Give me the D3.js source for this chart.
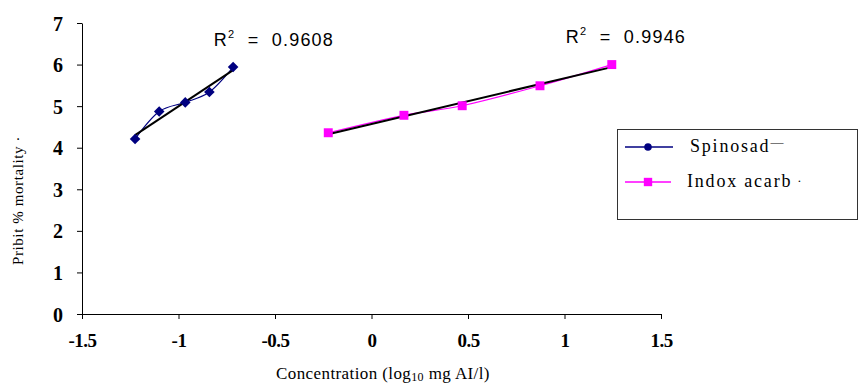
<!DOCTYPE html>
<html>
<head>
<meta charset="utf-8">
<script src="https://cdn.jsdelivr.net/npm/d3@7"></script>
<style>
  html, body { margin: 0; padding: 0; background: #fff; }
  svg { display: block; }
</style>
</head>
<body>
<div id="chart"></div>
<script>
// data
const spinosadX = [-1.225, -1.10, -0.965, -0.84, -0.717];
const spinosadY = [4.21, 4.87, 5.09, 5.34, 5.94];
const indoxacarbX = [-0.224, 0.168, 0.47, 0.873, 1.245];
const indoxacarbY = [4.36, 4.78, 5.01, 5.49, 6.0];
const r2Labels = ["0.9608", "0.9946"];
const xTicks = [-1.5, -1, -0.5, 0, 0.5, 1, 1.5];
const yTicks = [0, 1, 2, 3, 4, 5, 6, 7];

const W = 860, H = 383;
const margin = { top: 23, right: 199, bottom: 69, left: 82 };

const svg = d3.select("#chart")
    .append("svg")
    .attr("width", W)
    .attr("height", H);

const x = d3.scaleLinear().domain([-1.5, 1.5]).range([margin.left, W - margin.right]);
const y = d3.scaleLinear().domain([0, 7]).range([H - margin.bottom, margin.top]);

// axes
const xAxis = svg.append("g")
    .attr("transform", `translate(0,${y(0)})`)
    .call(d3.axisBottom(x).tickValues(xTicks).tickSize(5).tickSizeOuter(0).tickFormat(d => d));
const yAxis = svg.append("g")
    .attr("transform", `translate(${x(-1.5)},0)`)
    .call(d3.axisLeft(y).tickValues(yTicks).tickSize(5).tickSizeOuter(0).tickFormat(d3.format("d")));

[xAxis, yAxis].forEach(g => {
    g.select(".domain").attr("stroke", "#000").attr("stroke-width", 1);
    g.selectAll(".tick line").attr("stroke", "#000");
    g.selectAll(".tick text")
        .attr("fill", "#000")
        .style("font-family", "'Liberation Serif', 'Times New Roman', serif")
        .style("font-weight", "bold");
});
xAxis.selectAll(".tick text")
    .attr("y", 20).attr("dy", "0.71em")
    .style("font-size", "19px")
    .style("letter-spacing", "-0.5px");
yAxis.selectAll(".tick text")
    .attr("x", -19).attr("dy", "0.35em")
    .style("font-size", "20px");

// axis titles
svg.append("text")
    .attr("transform", `translate(23,${(y(0) + y(7)) / 2 + 32}) rotate(-90)`)
    .attr("text-anchor", "middle")
    .style("font-family", "'Liberation Serif', serif")
    .style("font-size", "15px")
    .style("letter-spacing", "0.6px")
    .text("Pribit % mortality ·");

const xt = svg.append("text")
    .attr("x", 383)
    .attr("y", 379)
    .attr("text-anchor", "middle")
    .style("font-family", "'Liberation Serif', serif")
    .style("font-size", "17px")
    .style("letter-spacing", "0.4px");
xt.append("tspan").text("Concentration (log");
xt.append("tspan").attr("dy", 2).style("font-size", "12px").text("10");
xt.append("tspan").attr("dy", -2).text(" mg AI/l)");

// series
const series = [
    { name: "Spinosad", xs: spinosadX, ys: spinosadY, color: "#000080", rotate: 45, size: 56, r2: r2Labels[0] },
    { name: "Indoxacarb", xs: indoxacarbX, ys: indoxacarbY, color: "#FF00FF", rotate: 0, size: 80, r2: r2Labels[1] }
];

function linreg(xs, ys) {
    const mx = d3.mean(xs), my = d3.mean(ys);
    const b = d3.sum(xs, (v, i) => (v - mx) * (ys[i] - my)) / d3.sum(xs, v => (v - mx) * (v - mx));
    return { a: my - b * mx, b };
}

const line = d3.line().x(d => x(d[0])).y(d => y(d[1])).curve(d3.curveCatmullRom.alpha(0));

series.forEach(s => {
    const pts = s.xs.map((v, i) => [v, s.ys[i]]);
    svg.append("path")
        .datum(pts)
        .attr("fill", "none")
        .attr("stroke", s.color)
        .attr("stroke-width", 1.2)
        .attr("d", line);

    const fit = linreg(s.xs, s.ys);
    const x0 = d3.min(s.xs), x1 = d3.max(s.xs);
    svg.append("line")
        .attr("x1", x(x0)).attr("y1", y(fit.a + fit.b * x0))
        .attr("x2", x(x1)).attr("y2", y(fit.a + fit.b * x1))
        .attr("stroke", "#000")
        .attr("stroke-width", 2);

    svg.append("g").selectAll("path")
        .data(pts)
        .join("path")
        .attr("transform", d => `translate(${x(d[0])},${y(d[1])}) rotate(${s.rotate})`)
        .attr("d", d3.symbol().type(d3.symbolSquare).size(s.size)())
        .attr("fill", s.color);
});

// R² labels
const r2Pos = [[-0.194, 6.45], [1.63, 6.51]];
series.forEach((s, i) => {
    const t = svg.append("text")
        .attr("x", x(r2Pos[i][0]))
        .attr("y", y(r2Pos[i][1]))
        .attr("text-anchor", "end")
        .style("font-family", "'Liberation Sans', Arial, sans-serif")
        .style("font-size", "18px")
        .style("letter-spacing", "1.2px");
    t.append("tspan").text("R");
    t.append("tspan").attr("dy", -8).style("font-size", "11px").text("2");
    t.append("tspan").attr("dy", 8).text("\u00a0\u00a0=\u00a0\u00a0" + s.r2);
});

// legend
const legend = svg.append("g").attr("transform", "translate(617,129)");
legend.append("rect")
    .attr("x", 0.5).attr("y", 0.5)
    .attr("width", 240).attr("height", 90)
    .attr("fill", "#fff")
    .attr("stroke", "#333")
    .attr("stroke-width", 1);

const legendRows = [
    { label: "Spinosad", tail: "—", yy: 18, tx: 73 },
    { label: "Indox acarb", tail: " ·", yy: 53, tx: 70 }
];
legendRows.forEach((r, i) => {
    const s = series[i];
    legend.append("line")
        .attr("x1", 8).attr("x2", i === 0 ? 56 : 54)
        .attr("y1", r.yy).attr("y2", r.yy)
        .attr("stroke", s.color).attr("stroke-width", 1.3);
    legend.append("path")
        .attr("transform", `translate(31,${r.yy})`)
        .attr("d", i === 0 ? d3.symbol().type(d3.symbolCircle).size(45)() : d3.symbol().type(d3.symbolSquare).size(70)())
        .attr("fill", s.color);
    const t = legend.append("text")
        .attr("x", r.tx)
        .attr("y", r.yy + 5)
        .style("font-family", "'Liberation Serif', serif")
        .style("font-size", "18px")
        .style("letter-spacing", "1.8px")
        .text(r.label);
    t.append("tspan").attr("dy", i === 0 ? -6 : -2).style("font-size", "13px").text(r.tail);
});
</script>
</body>
</html>
